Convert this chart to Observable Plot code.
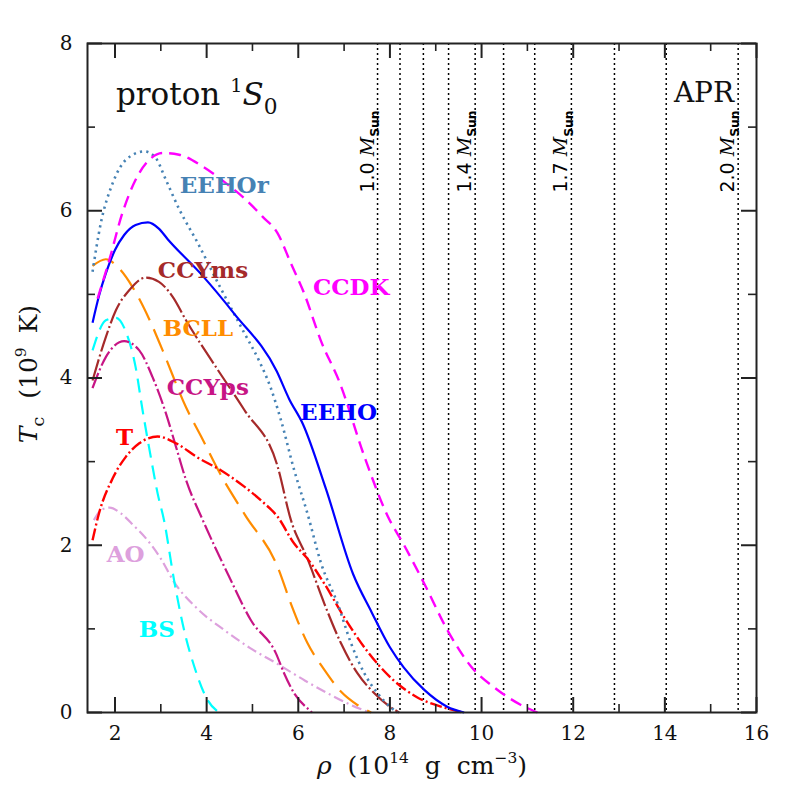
<!DOCTYPE html>
<html><head><meta charset="utf-8">
<script src="https://cdn.jsdelivr.net/npm/d3@7"></script>
<script src="https://cdn.jsdelivr.net/npm/@observablehq/plot@0.6"></script>
<style>html,body{margin:0;padding:0;background:#fff}svg{display:block}</style>
</head><body><div id="chart"></div>
<script>
// ---- data (rho in 1e14 g/cm^3, Tc in 1e9 K) ----
const EEHO = [[1.51,4.66],[1.65,4.98],[1.8,5.25],[2.0,5.53],[2.2,5.71],[2.45,5.83],[2.72,5.86],[2.95,5.79],[3.15,5.66],[3.9,5.23],[4.6,4.77],[5.53,4.08],[5.8,3.75],[6.1,3.45],[6.6,2.68],[7.2,1.65],[7.6,1.2],[8.0,0.78],[8.3,0.54],[8.75,0.27],[9.25,0.07],[9.62,0.0]];
const EEHOr = [[1.51,5.27],[1.69,5.85],[1.95,6.33],[2.24,6.61],[2.64,6.71],[2.89,6.63],[3.11,6.37],[3.4,6.02],[3.8,5.62],[4.3,5.08],[4.82,4.54],[5.15,4.2],[5.4,3.88],[5.62,3.5],[5.91,2.9],[6.2,2.38],[6.5,1.78],[6.86,1.3],[7.15,0.83],[7.44,0.47],[7.73,0.23],[8.0,0.07],[8.17,0.0]];
const CCDK = [[1.62,4.95],[1.87,5.4],[2.16,5.97],[2.45,6.37],[2.75,6.61],[3.04,6.69],[3.4,6.67],[3.91,6.53],[4.42,6.33],[4.86,6.13],[5.22,5.93],[5.55,5.73],[5.84,5.37],[6.13,5.01],[6.49,4.45],[6.9,3.95],[7.45,3.05],[7.95,2.35],[8.31,2.0],[8.75,1.54],[9.26,0.98],[9.77,0.55],[10.35,0.27],[10.86,0.09],[11.22,0.0]];
const CCYms = [[1.51,3.97],[1.8,4.49],[2.02,4.81],[2.31,5.05],[2.67,5.2],[2.96,5.15],[3.26,4.97],[3.55,4.69],[4.24,4.1],[4.82,3.62],[5.55,2.94],[5.84,2.3],[6.2,1.84],[6.57,1.3],[6.93,0.83],[7.29,0.47],[7.66,0.23],[8.0,0.07],[8.2,0.0]];
const BCLL = [[1.51,5.34],[1.8,5.42],[2.09,5.31],[2.38,5.09],[2.75,4.7],[3.04,4.33],[3.55,3.65],[3.88,3.3],[4.29,2.86],[4.84,2.36],[5.55,1.74],[5.84,1.3],[6.2,0.83],[6.57,0.51],[6.93,0.25],[7.29,0.09],[7.59,0.0]];
const CCYps = [[1.51,3.88],[1.8,4.25],[2.2,4.44],[2.53,4.33],[2.82,4.01],[3.11,3.58],[3.33,3.18],[3.55,2.78],[3.9,2.32],[4.46,1.66],[4.97,1.1],[5.51,0.71],[5.69,0.47],[5.91,0.23],[6.24,0.03],[6.3,0.0]];
const T = [[1.51,2.06],[1.65,2.38],[1.95,2.8],[2.24,3.06],[2.53,3.22],[2.93,3.3],[3.33,3.22],[3.8,3.05],[4.3,2.9],[4.8,2.71],[5.22,2.52],[5.55,2.34],[5.91,2.02],[6.2,1.84],[6.57,1.54],[7.0,1.14],[7.51,0.73],[8.05,0.4],[8.6,0.18],[9.18,0.06],[9.59,0.0]];
const AO = [[1.54,2.3],[1.7,2.42],[1.88,2.45],[2.13,2.38],[2.4,2.24],[2.71,2.06],[3.0,1.84],[3.29,1.56],[3.8,1.24],[4.4,0.98],[4.95,0.77],[5.55,0.58],[6.15,0.38],[6.71,0.21],[7.15,0.09],[7.55,0.0]];
const BS = [[1.51,4.33],[1.8,4.69],[2.02,4.72],[2.24,4.55],[2.45,4.13],[2.6,3.62],[2.78,3.06],[2.93,2.62],[3.07,2.3],[3.29,1.58],[3.51,0.98],[3.73,0.55],[4.02,0.15],[4.27,0.0]];

const seriesNames = ["AO","BS","CCYps","BCLL","CCYms","T","EEHOr","EEHO","CCDK"];
const seriesData = {EEHO, EEHOr, CCDK, CCYms, BCLL, CCYps, T, AO, BS};

// central densities of APR stars of given mass
const starMasses = [1.0,1.1,1.2,1.3,1.4,1.5,1.6,1.7,1.8,1.9,2.0];
const starDensities = [7.73,8.22,8.73,9.28,9.86,10.48,11.16,11.96,12.90,14.03,15.60];
const labelledMasses = ["1.0","1.4","1.7","2.0"];
const massLabelY = 7.2;

// series label anchor points (x, y of text baseline start)
const labelNames = ["EEHOr","CCYms","CCDK","BCLL","CCYps","EEHO","T","AO","BS"];
const labelX = [3.415,2.935,6.32,3.04,3.13,6.04,2.02,1.82,2.52];
const labelY = [6.21,5.195,4.99,4.50,3.80,3.50,3.20,1.80,0.90];

const xMajorTicks = [2,4,6,8,10,12,14,16];
const xMinorTicks = [3,5,7,9,11,13,15];
const yMajorTicks = [0,2,4,6,8];
const yMinorTicks = [1,3,5,7];
const titleText = "proton 1S0";
const modelText = "APR";
const titlePos = [2.02, 7.26];
const modelPos = [15.51, 7.30];

// ---- styles ----
const style = {
  EEHO:  {stroke:"#0000ff", dash:null,        w:2.2},
  EEHOr: {stroke:"#4682b4", dash:"2.2,4.2",   w:2.6},
  CCDK:  {stroke:"#ff00ff", dash:"12,7",      w:2.4},
  CCYms: {stroke:"#a52a2a", dash:"22,3,2,3",  w:2.2},
  BCLL:  {stroke:"#ff8c00", dash:"24,10",     w:2.2},
  CCYps: {stroke:"#c71585", dash:"16,3,2,3",  w:2.2},
  T:     {stroke:"#ff0000", dash:"12,3,2,3",  w:2.4},
  AO:    {stroke:"#dda0dd", dash:"10,4,2,4",  w:2.2},
  BS:    {stroke:"#00ffff", dash:"14,8",      w:2.2}
};

const W = 797, H = 797, mL = 87, mR = 41, mT = 43, mB = 85;
const plotW = W - mL - mR, plotH = H - mT - mB;
const serif = "DejaVu Serif";

const marks = [];
marks.push(Plot.ruleX(starDensities, {x: d => d, stroke: "#000", strokeWidth: 1.5, strokeDasharray: "2,3"}));
for (const name of seriesNames) {
  const s = style[name];
  marks.push(Plot.line(seriesData[name], {x: d => d[0], y: d => d[1], stroke: s.stroke, strokeWidth: s.w,
    strokeDasharray: s.dash, curve: "monotone-x", strokeLinecap: "butt"}));
}
// ticks (inside, all four sides)
const tk = {stroke: "#222"};
marks.push(
  Plot.tickX(xMajorTicks, {x: d => d, insetTop: plotH - 15, strokeWidth: 2, ...tk}),
  Plot.tickX(xMajorTicks, {x: d => d, insetBottom: plotH - 15, strokeWidth: 2, ...tk}),
  Plot.tickX(xMinorTicks, {x: d => d, insetTop: plotH - 8, strokeWidth: 1.6, ...tk}),
  Plot.tickX(xMinorTicks, {x: d => d, insetBottom: plotH - 8, strokeWidth: 1.6, ...tk}),
  Plot.tickY(yMajorTicks, {y: d => d, insetRight: plotW - 15, strokeWidth: 2, ...tk}),
  Plot.tickY(yMajorTicks, {y: d => d, insetLeft: plotW - 15, strokeWidth: 2, ...tk}),
  Plot.tickY(yMinorTicks, {y: d => d, insetRight: plotW - 8, strokeWidth: 1.6, ...tk}),
  Plot.tickY(yMinorTicks, {y: d => d, insetLeft: plotW - 8, strokeWidth: 1.6, ...tk}),
  Plot.frame({stroke: "#222", strokeWidth: 2}),
  Plot.axisX(xMajorTicks, {anchor: "bottom", tickSize: 0, tickPadding: 13, tickFormat: d => String(d), fontSize: 20, fontFamily: serif, fill: "#111", label: null}),
  Plot.axisY(yMajorTicks, {anchor: "left", tickSize: 0, tickPadding: 15, tickFormat: d => String(d), fontSize: 20, fontFamily: serif, fill: "#111", label: null})
);
// series labels
labelNames.forEach((n, i) => {
  marks.push(Plot.text([n], {x: () => labelX[i], y: () => labelY[i], text: d => d, fill: style[n].stroke,
    textAnchor: "start", lineAnchor: "bottom", fontSize: 23, fontWeight: "bold", fontFamily: serif}));
});
// mass labels
const massIdx = labelledMasses.map(m => starMasses.indexOf(+m));
marks.push(Plot.text(massIdx, {x: i => starDensities[i], y: () => massLabelY, text: i => "MASS" + starMasses[i].toFixed(1),
  rotate: -90, textAnchor: "end", lineAnchor: "bottom", dx: -4, fontSize: 19, fill: "#000"}));
// title and model
marks.push(Plot.text([titleText], {x: () => titlePos[0], y: () => titlePos[1], text: d => d, textAnchor: "start", lineAnchor: "bottom", fontSize: 31, fontFamily: serif, fill: "#111"}));
marks.push(Plot.text([modelText], {x: () => modelPos[0], y: () => modelPos[1], text: d => d, textAnchor: "end", lineAnchor: "bottom", fontSize: 28, fontFamily: serif, fill: "#111"}));
// axis labels
marks.push(Plot.text(["XLABEL"], {frameAnchor: "bottom", dy: 61, text: d => d, lineAnchor: "bottom", textAnchor: "middle", fontSize: 25, fontFamily: serif, fill: "#111"}));
marks.push(Plot.text(["YLABEL"], {frameAnchor: "left", dx: -51, dy: -4, rotate: -90, text: d => d, lineAnchor: "bottom", textAnchor: "middle", fontSize: 25, fontFamily: serif, fill: "#111"}));

const chart = Plot.plot({
  width: W, height: H, marginLeft: mL, marginRight: mR, marginTop: mT, marginBottom: mB,
  x: {domain: [1.4, 16]}, y: {domain: [0, 8]},
  style: {fontFamily: serif, background: "#fff"},
  marks
});
document.getElementById("chart").appendChild(chart);

// ---- rich text (superscripts, subscripts, italics) ----
const NS = "http://www.w3.org/2000/svg";
function rich(el, segs, fs) {
  el.textContent = "";
  let shift = 0;
  for (const s of segs) {
    const ts = document.createElementNS(NS, "tspan");
    let target = 0, size = fs;
    if (s.sup) { target = -0.42 * fs; size = 0.62 * fs; }
    if (s.sub) { target = 0.28 * fs; size = (s.scale || 0.62) * fs; }
    const dy = target - shift; shift = target;
    if (dy) ts.setAttribute("dy", dy.toFixed(2));
    if (s.dx) ts.setAttribute("dx", s.dx);
    ts.setAttribute("font-size", size.toFixed(2));
    if (s.italic) ts.setAttribute("font-style", "italic");
    if (s.family) ts.setAttribute("font-family", s.family);
    if (s.bold) ts.setAttribute("font-weight", "bold");
    ts.textContent = s.t;
    el.appendChild(ts);
  }
}
d3.select(chart).selectAll("text").each(function () {
  const t = this.textContent;
  if (t === titleText) {
    rich(this, [{t: "proton "}, {t: "1", sup: true}, {t: "S", italic: true}, {t: "0", sub: true, scale: 0.7}], 31);
  } else if (t === "XLABEL") {
    rich(this, [{t: "ρ", italic: true}, {t: " (10", dx: 8}, {t: "14", sup: true}, {t: " g", dx: 8}, {t: " cm", dx: 8}, {t: "−3", sup: true}, {t: ")"}], 25);
  } else if (t === "YLABEL") {
    rich(this, [{t: "T", italic: true}, {t: "c", sub: true, scale: 0.7}, {t: " (10", dx: 10}, {t: "9", sup: true}, {t: " K)", dx: 6}], 25);
  } else if (t.startsWith("MASS")) {
    rich(this, [{t: t.slice(4) + " ", family: "DejaVu Sans"}, {t: "M", italic: true, family: serif}, {t: "Sun", sub: true, scale: 0.65, bold: true, family: "DejaVu Sans"}], 19);
  }
});
</script>
</body></html>
